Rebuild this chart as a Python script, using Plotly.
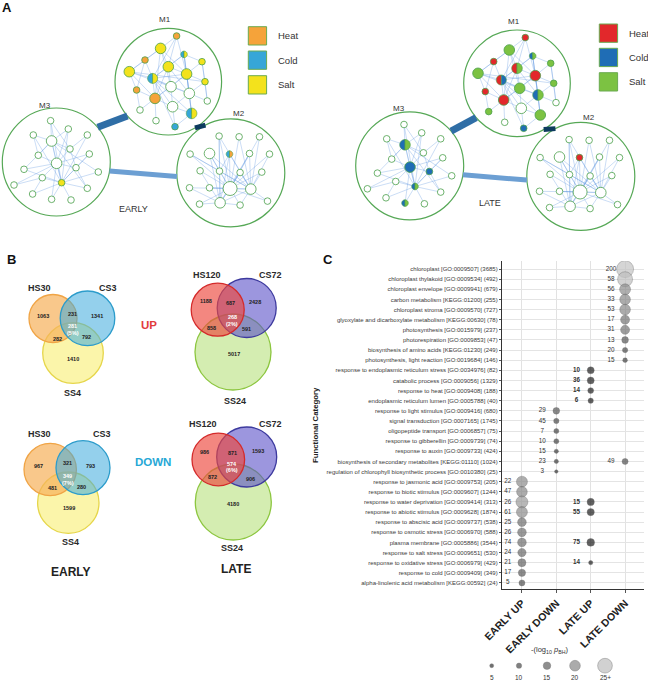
import numpy as np
import plotly.graph_objects as go

W, H = 648, 682
FONT = "Liberation Sans, Arial, sans-serif"

# ======================= Panel C data =======================
categories = [
    "chloroplast [GO:0009507] (3685)",
    "chloroplast thylakoid [GO:0009534] (492)",
    "chloroplast envelope [GO:0009941] (679)",
    "carbon metabolism [KEGG:01200] (255)",
    "chloroplast stroma [GO:0009570] (727)",
    "glyoxylate and dicarboxylate metabolism [KEGG:00630] (78)",
    "photosynthesis [GO:0015979] (237)",
    "photorespiration [GO:0009853] (47)",
    "biosynthesis of amino acids [KEGG:01230] (249)",
    "photosynthesis, light reaction [GO:0019684] (146)",
    "response to endoplasmic reticulum stress [GO:0034976] (82)",
    "catabolic process [GO:0009056] (1329)",
    "response to heat [GO:0009408] (188)",
    "endoplasmic reticulum lumen [GO:0005788] (40)",
    "response to light stimulus [GO:0009416] (680)",
    "signal transduction [GO:0007165] (1745)",
    "oligopeptide transport [GO:0006857] (75)",
    "response to gibberellin [GO:0009739] (74)",
    "response to auxin [GO:0009733] (424)",
    "biosynthesis of secondary metabolites [KEGG:01110] (1024)",
    "regulation of chlorophyll biosynthetic process [GO:0010380] (25)",
    "response to jasmonic acid [GO:0009753] (205)",
    "response to biotic stimulus [GO:0009607] (1244)",
    "response to water deprivation [GO:0009414] (313)",
    "response to abiotic stimulus [GO:0009628] (1874)",
    "response to abscisic acid [GO:0009737] (538)",
    "response to osmotic stress [GO:0006970] (588)",
    "plasma membrane [GO:0005886] (3544)",
    "response to salt stress [GO:0009651] (530)",
    "response to oxidative stress [GO:0006979] (429)",
    "response to cold [GO:0009409] (349)",
    "alpha-linolenic acid metabolism [KEGG:00592] (24)",
]
groups = ["EARLY UP", "EARLY DOWN", "LATE UP", "LATE DOWN"]

early_up_rows = [21, 22, 23, 24, 25, 26, 27, 28, 29, 30, 31]
early_up_logp = [20.4, 20.0, 21.7, 20.4, 17.0, 17.0, 17.0, 16.3, 15.8, 14.5, 11.8]
early_up_count = [22, 47, 26, 61, 25, 26, 74, 24, 21, 17, 5]

early_down_rows = [14, 15, 16, 17, 18, 19, 20]
early_down_logp = [13.3, 10.0, 9.1, 9.1, 6.7, 6.7, 1.0]
early_down_count = [29, 45, 7, 10, 15, 23, 3]

late_up_rows = [10, 11, 12, 13, 23, 24, 27, 29]
late_up_logp = [14.0, 14.0, 11.5, 10.0, 14.5, 14.5, 15.3, 6.7]
late_up_count = [10, 36, 14, 6, 15, 55, 75, 14]

late_down_rows = [0, 1, 2, 3, 4, 5, 6, 7, 8, 9, 19]
late_down_logp = [27.4, 25.3, 20.4, 20.0, 20.0, 17.5, 17.5, 13.3, 10.0, 8.2, 11.9]
late_down_count = [200, 58, 56, 33, 53, 17, 31, 13, 20, 15, 49]

size_legend_values = [5, 10, 15, 20, 25]
size_legend_labels = ["5", "10", "15", "20", "25+"]

# ======================= Panel B data =======================
early_sets = ["HS30", "CS3", "SS4"]
late_sets = ["HS120", "CS72", "SS24"]
region_keys = ["A", "B", "C", "AB", "AC", "BC", "ABC"]
early_up_regions = [1063, 1341, 1410, 231, 282, 792, 281]
early_up_pct = "5%"
early_down_regions = [967, 793, 1599, 321, 481, 280, 349]
early_down_pct = "7%"
late_up_regions = [1188, 2428, 5017, 687, 858, 591, 268]
late_up_pct = "2%"
late_down_regions = [986, 1593, 4180, 871, 872, 906, 574]
late_down_pct = "6%"

# ======================= Panel A data =======================
# node layout (pixel offset from module centre), node radius, edges
m1_dx = [8.3, -7.7, 15.7, -23.3, 0.0, 33.7, -39.0, -15.7, 18.3, 36.7, 2.7, -31.7, 21.0, -13.3, 39.0, -28.3, 4.3, 23.3, -12.3, 6.7]
m1_dy = [-45.7, -33.3, -27.3, -21.7, -15.0, -20.0, -10.0, -3.3, -7.7, 0.0, 5.0, 8.3, 11.7, 16.7, 19.3, 28.3, 25.0, 31.7, 39.0, 45.0]
m1_r = [3.3, 5.3, 3.3, 3.3, 5.3, 3.3, 5.3, 5.0, 5.3, 3.3, 5.3, 3.3, 5.3, 5.3, 3.3, 3.3, 5.3, 5.3, 3.3, 3.3]
m1_edges = [(0, 1), (0, 4), (0, 8), (0, 7), (1, 3), (1, 4), (1, 6), (1, 8), (1, 13), (2, 4), (2, 5), (2, 8),
            (2, 12), (2, 7), (3, 6), (3, 7), (3, 11), (4, 7), (4, 8), (4, 10), (4, 12), (5, 8), (5, 9), (5, 14),
            (6, 7), (6, 11), (6, 13), (6, 9), (7, 8), (7, 10), (7, 13), (7, 16), (7, 17), (7, 12), (8, 9),
            (8, 12), (8, 10), (8, 17), (9, 12), (9, 14), (10, 13), (10, 16), (11, 13), (11, 15), (12, 14),
            (12, 16), (12, 17), (13, 16), (13, 18), (13, 15), (16, 17), (16, 19), (17, 19), (8, 13), (1, 10),
            (4, 13), (7, 19), (2, 17), (6, 12)]

m2_dx = [-11.7, 8.3, 28.7, -40.7, -21.3, -1.3, 18.7, 38.7, -30.7, -11.3, 9.3, 31.0, -41.3, -21.3, -0.7, 20.0, -31.3, -10.7, 9.3, 36.7]
m2_dy = [-36.7, -36.0, -36.0, -18.7, -19.3, -18.7, -19.3, -18.7, -2.0, -1.7, -0.3, -0.7, 15.0, 15.0, 15.7, 16.3, 31.3, 30.0, 32.3, 28.3]
m2_r = [3.3, 3.3, 3.3, 3.3, 5.3, 3.3, 3.3, 3.3, 3.3, 3.3, 3.3, 3.3, 3.3, 3.3, 7.0, 5.3, 3.3, 5.3, 3.3, 3.3]
m2_edges = [(0, 14), (0, 17), (0, 9), (1, 14), (1, 15), (2, 15), (2, 14), (3, 14), (3, 9), (3, 15), (4, 14),
            (4, 9), (4, 17), (4, 15), (5, 14), (5, 17), (5, 15), (5, 9), (6, 14), (6, 15), (7, 15), (7, 14),
            (8, 14), (8, 17), (9, 14), (9, 15), (9, 17), (10, 14), (10, 17), (10, 15), (11, 15), (11, 14),
            (12, 14), (12, 17), (13, 14), (13, 15), (14, 15), (14, 16), (14, 17), (14, 18), (15, 17), (15, 18),
            (15, 19), (16, 17), (17, 18), (19, 14), (6, 17), (0, 15)]

m3_dx = [-5.7, -23.0, 12.0, 31.0, -4.7, -18.0, 13.7, 33.0, 0.3, -32.3, 19.7, 42.0, -14.0, 5.3, -42.3, 31.0, -23.7, -4.7, 14.7]
m3_dy = [-41.3, -27.0, -33.0, -27.0, -21.0, -6.7, -13.0, -8.0, 1.3, 7.3, 5.7, 10.0, 15.7, 20.7, 23.0, 26.3, 32.0, 37.3, 38.0]
m3_r = [3.3, 3.3, 3.3, 3.3, 5.3, 3.3, 3.3, 3.3, 5.3, 3.3, 3.3, 3.3, 3.3, 3.3, 3.3, 3.3, 3.3, 3.3, 3.3]
m3_edges = [(0, 4), (0, 6), (1, 4), (1, 5), (2, 4), (2, 13), (3, 6), (3, 13), (4, 8), (4, 13), (4, 5), (4, 9),
            (4, 6), (5, 8), (6, 8), (6, 10), (7, 13), (7, 10), (8, 13), (8, 9), (8, 10), (8, 12), (9, 13),
            (10, 13), (11, 13), (12, 13), (13, 15), (13, 16), (13, 17), (13, 18), (14, 12), (14, 8), (15, 10),
            (16, 12), (17, 8), (2, 8), (4, 11), (4, 15), (7, 8), (0, 13), (1, 13)]

# node state: W = no DEG, H/C/S = heat/cold/salt, two letters = split node (left, right)
early_m1_state = ["H", "S", "CS", "H", "S", "S", "S", "CS", "S", "S", "W", "H", "W", "H", "W", "W", "W", "CS", "W", "C"]
early_m2_state = ["W"] * 5 + ["CH"] + ["W"] * 14
early_m3_state = ["W"] * 13 + ["S"] + ["W"] * 5
late_m1_state = ["H", "S", "CS", "H", "HS", "S", "S", "HC", "H", "S", "S", "H", "CS", "H", "W", "S", "W", "S", "W", "C"]
late_m2_state = ["W"] * 5 + ["H"] + ["W"] * 14
late_m3_state = ["W", "W", "W", "W", "CS", "W", "W", "W", "C", "W", "C", "W", "W", "CS", "W", "W", "W", "CS", "W"]
module_links = [("M1", "M3"), ("M1", "M2"), ("M3", "M2")]
legend_states = ["Heat", "Cold", "Salt"]

# ======================= styles / layout =======================
GRAY = [[0, "#333333"], [0.23, "#4b4b4b"], [0.45, "#5e5e5e"], [0.68, "#888888"], [0.9, "#bdbdbd"], [1, "#c4c4c4"]]
STATE_COL = {"EARLY": {"H": "#f5a33a", "C": "#36a6d8", "S": "#f3e21c", "W": "#ffffff"},
             "LATE": {"H": "#e2282b", "C": "#1f6db5", "S": "#7cc242", "W": "#ffffff"}}
NODE_LINE = "#4aa04a"

A_LAYOUT = {
    "EARLY": dict(centers={"M1": (168.3, 81.7, 53.3), "M2": (230.8, 172.8, 54), "M3": (56.3, 162, 54)},
                  title=(133.3, 209.3), leg_x=248.3, leg_y=[26.7, 51.0, 75.7]),
    "LATE": dict(centers={"M1": (517.0, 83.3, 53.3), "M2": (580.8, 176.3, 54), "M3": (409.7, 165.8, 54)},
                 title=(490.0, 202.7), leg_x=599.3, leg_y=[24.0, 48.3, 72.7]),
}
LABEL_OFF = {"M1": (-3, -62), "M2": (8.5, -59), "M3": (-11, -57)}
LINK_STYLE = {("M1", "M3"): (140, -40, 7, "#2f6ea6"), ("M1", "M2"): (60, -118, 5, "#0d3b5e"),
              ("M3", "M2"): (9.6, 176, 5, "#6c9fd3")}

B_LAYOUT = {
    "early_up": dict(circles=[(53, 318.5, 24), (87.5, 318.3, 27.3), (73, 353, 30.3)],
                     labels=[(39.3, 288.3), (107.7, 287.7), (72.7, 392.7)],
                     pos=[(43.3, 316), (96.7, 316), (73.3, 359), (72.3, 314), (57.3, 339.3), (86, 337.3), (72.7, 325.7)],
                     pct=(72.7, 332.7)),
    "early_down": dict(circles=[(50.2, 469.5, 26.2), (83, 467.7, 27), (68.3, 502.7, 30.7)],
                       labels=[(39, 434), (102.3, 434), (70.7, 542.3)],
                       pos=[(38.3, 465.7), (90, 465.7), (69, 507.7), (67.3, 463.3), (52.3, 488.3), (81.7, 486.7), (67.7, 476)],
                       pct=(67.7, 483.3)),
    "late_up": dict(circles=[(217.7, 309.7, 26.5), (246.7, 308, 29.5), (233, 352, 38)],
                    labels=[(206.7, 275), (270.7, 275), (235, 400.7)],
                    pos=[(206, 301), (255, 301.7), (234, 354.3), (230, 303.3), (211.7, 327.7), (246.7, 329), (232.3, 316.7)],
                    pct=(232.3, 324)),
    "late_down": dict(circles=[(218.3, 459.5, 26.3), (246.7, 457, 30), (233.3, 502, 38)],
                      labels=[(203.3, 424), (270, 424), (232.3, 548.3)],
                      pos=[(204.3, 452.3), (258.3, 450.7), (233.3, 504.3), (232.3, 453.3), (212.3, 477.3), (250.7, 479.3), (232.3, 464.3)],
                      pct=(232.3, 470)),
}
EARLY_FILL = [("rgba(247,176,90,0.70)", "#f0a445"), ("rgba(60,170,220,0.55)", "#2c9ccb"), ("rgba(248,236,100,0.55)", "#e6d64a")]
LATE_FILL = [("rgba(236,70,60,0.65)", "#d42a2a"), ("rgba(90,80,200,0.60)", "#3d3a9e"), ("rgba(170,220,100,0.50)", "#8cc63f")]

fig = go.Figure()
shapes = []
ann = []


def text(x, y, s, size, bold=False, color="#222", **kw):
    ann.append(dict(x=x, y=y, xref="x", yref="y", text=(f"<b>{s}</b>" if bold else s), showarrow=False,
                    font=dict(size=size, color=color, family=FONT), **kw))


def half_path(cx, cy, r, t0, t1, n=26):
    t = np.radians(np.linspace(t0, t1, n))
    xs, ys = cx + r * np.cos(t), cy + r * np.sin(t)
    return "M " + " L ".join(f"{a:.2f},{b:.2f}" for a, b in zip(xs, ys)) + " Z"


# ---------------- Panel A ----------------
mods = {"M1": (m1_dx, m1_dy, m1_r, m1_edges), "M2": (m2_dx, m2_dy, m2_r, m2_edges), "M3": (m3_dx, m3_dy, m3_r, m3_edges)}
states = {"EARLY": {"M1": early_m1_state, "M2": early_m2_state, "M3": early_m3_state},
          "LATE": {"M1": late_m1_state, "M2": late_m2_state, "M3": late_m3_state}}

for period, lay in A_LAYOUT.items():
    cen = lay["centers"]
    cols = STATE_COL[period]
    for m, (cx, cy, R) in cen.items():
        shapes.append(dict(type="circle", xref="x", yref="y", x0=cx - R, x1=cx + R, y0=cy - R, y1=cy + R,
                           line=dict(color="#56a856", width=1.2), fillcolor="rgba(0,0,0,0)", layer="below"))
        ox, oy = LABEL_OFF[m]
        text(cx + ox, cy + oy, m, 8, color="#333")
    ex, ey = [], []
    for m, (dx, dy, rr, edges) in mods.items():
        cx, cy, R = cen[m]
        for i, j in edges:
            ex += [cx + dx[i], cx + dx[j], None]
            ey += [cy + dy[i], cy + dy[j], None]
    fig.add_trace(go.Scatter(x=ex, y=ey, mode="lines", line=dict(color="rgba(95,150,225,0.55)", width=0.6),
                             hoverinfo="skip", xaxis="x", yaxis="y"))
    for a, b in module_links:
        ta, tb, wdt, col = LINK_STYLE[(a, b)]
        ax_, ay_, ar = cen[a]
        bx_, by_, br = cen[b]
        xs = [ax_ + ar * np.cos(np.radians(ta)), bx_ + br * np.cos(np.radians(tb))]
        ys = [ay_ + ar * np.sin(np.radians(ta)), by_ + br * np.sin(np.radians(tb))]
        fig.add_trace(go.Scatter(x=xs, y=ys, mode="lines", line=dict(color=col, width=wdt), hoverinfo="skip",
                                 xaxis="x", yaxis="y"))
    for m, (dx, dy, rr, edges) in mods.items():
        cx, cy, R = cen[m]
        for k in range(len(dx)):
            x, y, r = cx + dx[k], cy + dy[k], rr[k]
            st = states[period][m][k]
            if len(st) == 1:
                shapes.append(dict(type="circle", xref="x", yref="y", x0=x - r, x1=x + r, y0=y - r, y1=y + r,
                                   fillcolor=cols[st], line=dict(color=NODE_LINE, width=0.8), layer="above"))
            else:
                shapes.append(dict(type="path", xref="x", yref="y", path=half_path(x, y, r, 90, 270),
                                   fillcolor=cols[st[0]], line=dict(color=NODE_LINE, width=0.6), layer="above"))
                shapes.append(dict(type="path", xref="x", yref="y", path=half_path(x, y, r, -90, 90),
                                   fillcolor=cols[st[1]], line=dict(color=NODE_LINE, width=0.6), layer="above"))
    text(lay["title"][0], lay["title"][1], period, 9, color="#333")
    for name, yy, key in zip(legend_states, lay["leg_y"], ["H", "C", "S"]):
        x0 = lay["leg_x"]
        shapes.append(dict(type="rect", xref="x", yref="y", x0=x0, x1=x0 + 18.3, y0=yy, y1=yy + 18.3,
                           fillcolor=cols[key], line=dict(color="#6aaa50", width=1), layer="above"))
        text(x0 + 27.5, yy + 9.2, name, 9.5, color="#333", xanchor="left")

# ---------------- Panel B ----------------
venns = [("early_up", early_sets, early_up_regions, early_up_pct, EARLY_FILL, [2, 0, 1]),
         ("early_down", early_sets, early_down_regions, early_down_pct, EARLY_FILL, [2, 0, 1]),
         ("late_up", late_sets, late_up_regions, late_up_pct, LATE_FILL, [2, 1, 0]),
         ("late_down", late_sets, late_down_regions, late_down_pct, LATE_FILL, [2, 1, 0])]
for key, sets, regions, pct, fills, order in venns:
    lay = B_LAYOUT[key]
    for idx in order:
        cx, cy, r = lay["circles"][idx]
        shapes.append(dict(type="circle", xref="x", yref="y", x0=cx - r, x1=cx + r, y0=cy - r, y1=cy + r,
                           fillcolor=fills[idx][0], line=dict(color=fills[idx][1], width=1.3), layer="below"))
    for name, (lx, ly) in zip(sets, lay["labels"]):
        text(lx, ly, name, 9, bold=True, color="#2a2a2a")
    for rk, val, (px, py) in zip(region_keys, regions, lay["pos"]):
        text(px, py, str(val), 5.5, bold=True, color=("#ffffff" if rk == "ABC" else "#222"))
    text(lay["pct"][0], lay["pct"][1], f"({pct})", 5.5, bold=True, color="#ffffff")

text(149, 325, "UP", 11.5, bold=True, color="#e23c3c")
text(153.3, 461.7, "DOWN", 11.5, bold=True, color="#27a8d6")
text(70.7, 571.7, "EARLY", 12, bold=True, color="#222")
text(235.7, 569, "LATE", 12, bold=True, color="#222")

text(7, 7, "A", 13, bold=True, color="#111")
text(11.7, 259, "B", 13, bold=True, color="#111")
text(328, 259, "C", 13, bold=True, color="#111")

# ---------------- Panel C ----------------
def bubble_d(v):
    return 3.5 + 0.018 * np.asarray(v, dtype=float) ** 2


group_data = [(early_up_rows, early_up_logp, early_up_count), (early_down_rows, early_down_logp, early_down_count),
              (late_up_rows, late_up_logp, late_up_count), (late_down_rows, late_down_logp, late_down_count)]
for gi, (rows, lp, cnt) in enumerate(group_data):
    bold = groups[gi] == "LATE UP"
    fig.add_trace(go.Scatter(x=[gi - 0.41] * len(rows), y=rows, mode="text",
                             text=[(f"<b>{c}</b>" if bold else str(c)) for c in cnt],
                             textfont=dict(size=6.3, color="#333", family=FONT), hoverinfo="skip",
                             xaxis="x2", yaxis="y2"))
for gi, (rows, lp, cnt) in enumerate(group_data):
    mk = dict(size=bubble_d(lp), sizemode="diameter", line=dict(width=0.5, color="rgba(50,50,50,0.7)"))
    if groups[gi] == "LATE UP":
        mk["color"] = "#1f1f1f"
    else:
        mk.update(color=lp, colorscale=GRAY, cmin=5, cmax=27)
    fig.add_trace(go.Scatter(x=[gi] * len(rows), y=rows, mode="markers", marker=mk, hoverinfo="skip",
                             xaxis="x2", yaxis="y2"))

leg_x = [491.7, 519.0, 547.0, 575.0, 605.0]
fig.add_trace(go.Scatter(x=leg_x, y=[665.7] * 5, mode="markers",
                         marker=dict(size=bubble_d(size_legend_values), color=size_legend_values, colorscale=GRAY,
                                     cmin=5, cmax=27, line=dict(width=0.6, color="rgba(60,60,60,0.7)")),
                         hoverinfo="skip", xaxis="x", yaxis="y"))
for lx, lab in zip(leg_x, size_legend_labels):
    text(lx, 677, lab, 6.5, color="#333")
text(549, 650, "-(log<sub>10</sub> <i>p</i><sub>BH</sub>)", 7.5, color="#333")
text(315, 425, "Functional Category", 7.8, bold=True, color="#222", textangle=-90)

fig.update_layout(
    width=W, height=H, margin=dict(l=0, r=0, t=0, b=0), template="none", showlegend=False,
    paper_bgcolor="white", plot_bgcolor="rgba(0,0,0,0)", font=dict(family=FONT, color="#222"),
    xaxis=dict(domain=[0, 1], range=[0, W], visible=False, fixedrange=True),
    yaxis=dict(domain=[0, 1], range=[H, 0], visible=False, fixedrange=True),
    xaxis2=dict(domain=[502 / W, 644 / W], range=[-0.58, 3.55], anchor="y2", tickmode="array",
                tickvals=list(range(4)), ticktext=[f"<b>{g}</b>" for g in groups], tickangle=-45,
                tickfont=dict(size=10.5, color="#222", family=FONT), showgrid=True, gridcolor="#e2e2e2",
                gridwidth=0.8, zeroline=False, showline=True, linecolor="#333", linewidth=1.2,
                ticks="outside", ticklen=3, tickcolor="#555", automargin=False, fixedrange=True),
    yaxis2=dict(domain=[(H - 589) / H, (H - 261) / H], range=[31.6, -0.8], anchor="x2", tickmode="array",
                tickvals=list(range(len(categories))), ticktext=categories,
                tickfont=dict(size=6.0, color="#3a3a3a", family=FONT), showgrid=True, gridcolor="#e4e4e4",
                gridwidth=0.7, zeroline=False, showline=True, linecolor="#333", linewidth=1.2,
                ticks="outside", ticklen=2, tickcolor="#555", automargin=False, fixedrange=True),
    shapes=shapes, annotations=ann,
)

fig.write_html("out.html", config={"displayModeBar": False},
               post_script="document.body.style.margin='0';document.body.style.padding='0';")
